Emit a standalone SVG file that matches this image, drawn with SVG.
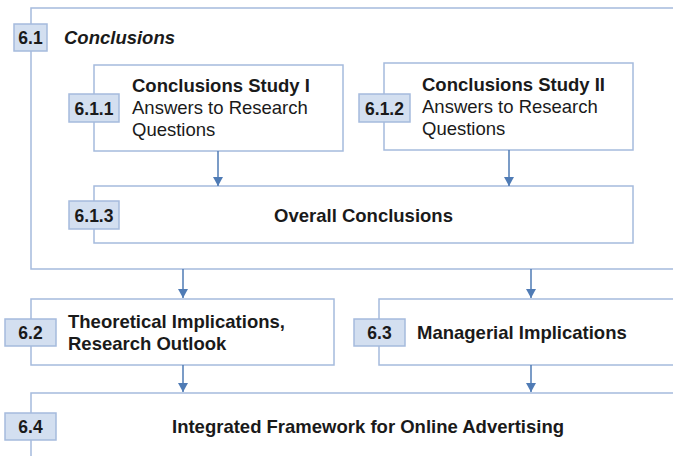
<svg xmlns="http://www.w3.org/2000/svg" width="673" height="456" viewBox="0 0 673 456">
<style>
.box{fill:#ffffff;stroke:#a5bbdd;stroke-width:1.5}
.frame{fill:none;stroke:#a5bbdd;stroke-width:1.5}
.tag{fill:#d3dff0;stroke:#a5bbdd;stroke-width:1.5}
.tagt{font-family:"Liberation Sans",Arial,sans-serif;font-size:17.5px;font-weight:bold;fill:#1a1a1a;text-anchor:middle}
.b{font-family:"Liberation Sans",Arial,sans-serif;font-size:18.5px;font-weight:bold;fill:#1a1a1a}
.n{font-family:"Liberation Sans",Arial,sans-serif;font-size:18.5px;fill:#1a1a1a}
.conn{stroke:#4f7bb5;stroke-width:1.5;fill:none}
</style>
<defs>
<marker id="ah" viewBox="0 0 9 10" refX="9" refY="5" markerWidth="9" markerHeight="10" markerUnits="userSpaceOnUse" orient="auto">
<path d="M0,0 L9,5 L0,10 Z" fill="#4f7bb5"/>
</marker>
</defs>
<rect width="673" height="456" fill="#ffffff"/>
<g id="n6_1">
<path class="frame" d="M680,8 L31,8 L31,269 L680,269"/>
<rect class="tag" x="14" y="24" width="33" height="27"/>
<text class="tagt" x="30.5" y="44">6.1</text>
<text class="b" x="64" y="44" font-style="italic">Conclusions</text>
</g>
<g id="n6_1_1">
<rect class="box" x="94" y="65" width="249" height="86"/>
<rect class="tag" x="69" y="94" width="50" height="28"/>
<text class="tagt" x="94" y="114.5">6.1.1</text>
<text class="b" x="132" y="92">Conclusions Study I</text>
<text class="n" x="132" y="114">Answers to Research</text>
<text class="n" x="132" y="136">Questions</text>
</g>
<g id="n6_1_2">
<rect class="box" x="384" y="63" width="249" height="87"/>
<rect class="tag" x="359" y="94" width="51" height="28"/>
<text class="tagt" x="384.5" y="114.5">6.1.2</text>
<text class="b" x="422" y="91">Conclusions Study II</text>
<text class="n" x="422" y="113">Answers to Research</text>
<text class="n" x="422" y="135">Questions</text>
</g>
<g id="n6_1_3">
<rect class="box" x="94" y="186" width="539" height="57"/>
<rect class="tag" x="69" y="201" width="50" height="28"/>
<text class="tagt" x="94" y="221.5">6.1.3</text>
<text class="b" x="363.5" y="221.5" text-anchor="middle">Overall Conclusions</text>
</g>
<g id="n6_2">
<rect class="box" x="31" y="299" width="303" height="66"/>
<rect class="tag" x="5" y="319" width="51" height="27"/>
<text class="tagt" x="30.5" y="339">6.2</text>
<text class="b" x="68" y="328">Theoretical Implications,</text>
<text class="b" x="68" y="350">Research Outlook</text>
</g>
<g id="n6_3">
<rect class="box" x="379" y="299" width="310" height="66"/>
<rect class="tag" x="354" y="319" width="51" height="27"/>
<text class="tagt" x="379.5" y="339">6.3</text>
<text class="b" x="417" y="339">Managerial Implications</text>
</g>
<g id="n6_4">
<path class="frame" d="M680,393 L31,393 L31,460"/>
<rect class="tag" x="5" y="413" width="51" height="27"/>
<text class="tagt" x="30.5" y="433">6.4</text>
<text class="b" x="172" y="433">Integrated Framework for Online Advertising</text>
</g>
<g id="connectors">
<line class="conn" x1="218" y1="151" x2="218" y2="186" marker-end="url(#ah)"/>
<line class="conn" x1="509" y1="150" x2="509" y2="186" marker-end="url(#ah)"/>
<line class="conn" x1="183" y1="269" x2="183" y2="298" marker-end="url(#ah)"/>
<line class="conn" x1="531" y1="269" x2="531" y2="298" marker-end="url(#ah)"/>
<line class="conn" x1="183" y1="365" x2="183" y2="392" marker-end="url(#ah)"/>
<line class="conn" x1="531" y1="365" x2="531" y2="392" marker-end="url(#ah)"/>
</g>
</svg>
